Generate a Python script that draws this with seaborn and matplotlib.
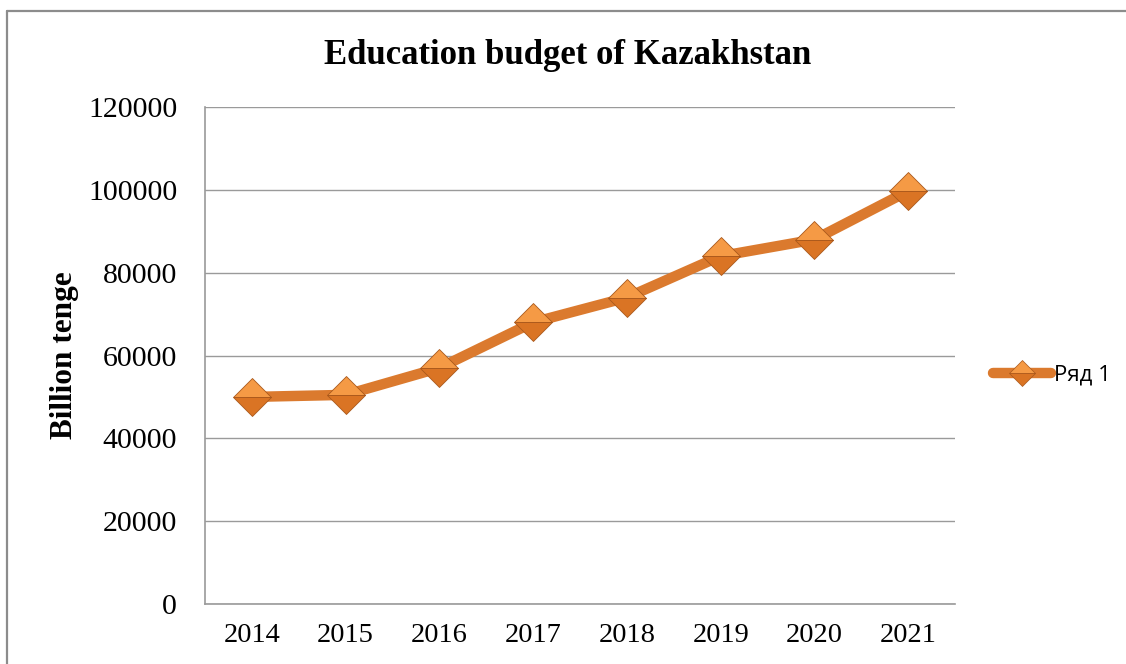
import numpy as np
import pandas as pd
import matplotlib
matplotlib.use('Agg')
import matplotlib.pyplot as plt
import seaborn as sb
from matplotlib.lines import Line2D

# data
years = ['2014', '2015', '2016', '2017', '2018', '2019', '2020', '2021']
budget = [50000, 50500, 57000, 68000, 74000, 84000, 88000, 99700]
series_name = 'Ряд 1'
y_ticks = [0, 20000, 40000, 60000, 80000, 100000, 120000]

df = pd.DataFrame({'year': years, 'budget': budget})

sb.set_style('white')
plt.rcParams['font.family'] = ['Liberation Serif', 'DejaVu Serif']
plt.rcParams['text.color'] = 'black'
plt.rcParams['axes.labelcolor'] = 'black'

line_color = '#DB7A2E'
face_top = '#F59A45'
face_bottom = '#DA7424'
edge_color = '#A9581C'

fig = plt.figure(figsize=(11.26, 6.64), dpi=100)
ax = fig.add_axes([205 / 1126, 60 / 664, 750 / 1126, 497 / 664])

sb.lineplot(data=df, x='year', y='budget', ax=ax, color=line_color,
            linewidth=7.5, sort=False, solid_capstyle='round')
# diamond markers with a light top half and a darker bottom half
ax.plot(df['year'], df['budget'], linestyle='none', marker='D', markersize=19,
        fillstyle='top', markerfacecolor=face_top, markerfacecoloralt=face_bottom,
        markeredgecolor=edge_color, markeredgewidth=0.6, zorder=5)

ax.set_xlim(-0.5, len(years) - 0.5)
ax.set_ylim(y_ticks[0], y_ticks[-1])
ax.set_yticks(y_ticks)
ax.set_yticklabels([str(t) for t in y_ticks])
ax.grid(axis='y', color='#9A9A9A', linewidth=1)
ax.set_axisbelow(True)
ax.tick_params(axis='both', length=0, colors='black')
ax.tick_params(axis='y', pad=20, labelsize=21.5)
ax.tick_params(axis='x', pad=14, labelsize=20.5)
for side in ['top', 'right']:
    ax.spines[side].set_visible(False)
for side in ['left', 'bottom']:
    ax.spines[side].set_color('#9A9A9A')
    ax.spines[side].set_linewidth(1.2)

ax.set_xlabel('')
ax.set_ylabel('Billion tenge', fontsize=22.5, fontweight='bold', color='black')
ax.yaxis.set_label_coords(-126 / 750, 0.5)

fig.text(568 / 1126, 1 - 56 / 664, 'Education budget of Kazakhstan',
         ha='center', va='center', fontsize=25, fontweight='bold', color='black')

# legend on the right
handle = Line2D([0], [0], color=line_color, linewidth=7.5, solid_capstyle='round',
                marker='D', markersize=13, fillstyle='top',
                markerfacecolor=face_top, markerfacecoloralt=face_bottom,
                markeredgecolor=edge_color, markeredgewidth=0.5)
leg = fig.legend([handle], [series_name], loc='center left',
                 bbox_to_anchor=(984 / 1126, 1 - 375 / 664), frameon=False,
                 handlelength=2.6, handletextpad=0.15, borderaxespad=0,
                 prop={'family': 'Open Sans', 'size': 16})

# outer chart border (top and left visible)
fig.add_artist(Line2D([7 / 1126, 1], [1 - 11 / 664, 1 - 11 / 664],
                      transform=fig.transFigure, color='#8C8C8C', linewidth=1.6))
fig.add_artist(Line2D([7 / 1126, 7 / 1126], [0, 1 - 11 / 664],
                      transform=fig.transFigure, color='#8C8C8C', linewidth=1.6))

fig.savefig('out.png', dpi=100, facecolor='white')
